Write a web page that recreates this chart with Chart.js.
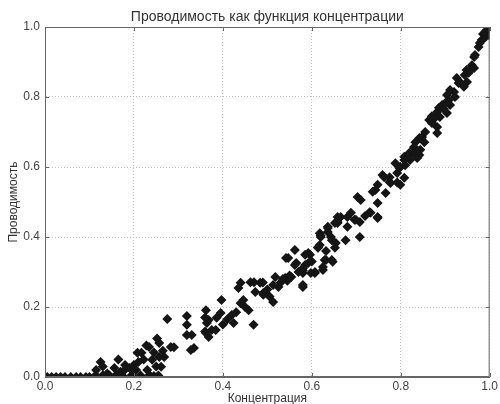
<!DOCTYPE html>
<html>
<head>
<meta charset="utf-8">
<script src="https://cdn.jsdelivr.net/npm/chart.js@4/dist/chart.umd.min.js"></script>
<style>
  html, body { margin: 0; padding: 0; background: #fff; }
</style>
</head>
<body>
<canvas id="chart" width="500" height="404"></canvas>
<script>
// Тексты графика
const chartTitle = 'Проводимость как функция концентрации';
const xTitle = 'Концентрация';
const yTitle = 'Проводимость';
const tickValues = [0, 0.2, 0.4, 0.6, 0.8, 1.0];

const zeroBand = [
  [0.005, 0], [0.015, 0], [0.025, 0], [0.035, 0], [0.045, 0], [0.058, 0], [0.07, 0],
  [0.08, 0], [0.092, 0], [0.1, 0], [0.11, 0], [0.118, 0], [0.13, 0.005], [0.145, 0.004],
  [0.16, 0.006], [0.175, 0.003], [0.195, 0.005], [0.215, 0.004], [0.235, 0.006],
  [0.245, 0.003], [0.255, 0.004]
];
const risingBand = [
  [0.115, 0.02], [0.125, 0.043], [0.13, 0.03], [0.14, 0.01], [0.156, 0.026], [0.165, 0.05],
  [0.17, 0.015], [0.18, 0.034], [0.179, 0.02], [0.19, 0.026], [0.2, 0.034], [0.21, 0.043],
  [0.208, 0.069], [0.217, 0.069], [0.228, 0.09], [0.23, 0.02], [0.234, 0.086], [0.241, 0.049],
  [0.25, 0.03], [0.252, 0.11], [0.257, 0.097], [0.257, 0.057], [0.261, 0.029], [0.265, 0.075],
  [0.268, 0.057], [0.275, 0.166], [0.283, 0.086], [0.29, 0.085], [0.319, 0.174], [0.319, 0.149],
  [0.319, 0.12], [0.33, 0.12], [0.328, 0.077], [0.335, 0.083], [0.36, 0.17], [0.36, 0.13],
  [0.364, 0.154], [0.362, 0.191], [0.368, 0.163], [0.362, 0.126], [0.375, 0.134], [0.368, 0.114],
  [0.384, 0.134], [0.386, 0.169], [0.397, 0.22], [0.395, 0.183], [0.42, 0.177], [0.424, 0.154],
  [0.41, 0.165], [0.4, 0.15], [0.43, 0.185], [0.222, 0.05], [0.245, 0.07], [0.205, 0.02]
];
const middleBand = [
  [0.44, 0.269], [0.462, 0.271], [0.484, 0.269], [0.435, 0.254], [0.446, 0.22], [0.44, 0.211],
  [0.473, 0.243], [0.458, 0.191], [0.469, 0.149], [0.491, 0.24], [0.45, 0.2], [0.491, 0.235],
  [0.5, 0.25], [0.505, 0.23], [0.518, 0.286], [0.525, 0.257], [0.513, 0.214], [0.542, 0.34],
  [0.562, 0.363], [0.565, 0.326], [0.58, 0.311], [0.58, 0.257], [0.596, 0.349], [0.607, 0.297],
  [0.618, 0.377], [0.629, 0.334], [0.647, 0.329], [0.643, 0.4], [0.62, 0.4], [0.54, 0.283],
  [0.554, 0.286], [0.547, 0.34], [0.592, 0.354], [0.618, 0.411], [0.636, 0.426], [0.652, 0.44],
  [0.614, 0.369], [0.632, 0.334], [0.625, 0.306], [0.562, 0.32], [0.58, 0.305], [0.607, 0.3],
  [0.513, 0.263], [0.545, 0.275], [0.47, 0.271], [0.49, 0.27], [0.652, 0.369], [0.654, 0.383],
  [0.53, 0.27], [0.535, 0.28], [0.55, 0.29], [0.57, 0.3], [0.585, 0.32], [0.6, 0.33]
];
const upperBand = [
  [0.636, 0.414], [0.62, 0.404], [0.645, 0.391], [0.614, 0.371], [0.632, 0.36], [0.645, 0.334],
  [0.585, 0.349], [0.592, 0.326], [0.58, 0.297], [0.598, 0.297], [0.58, 0.263], [0.625, 0.314],
  [0.665, 0.457], [0.658, 0.44], [0.68, 0.429], [0.676, 0.391], [0.688, 0.469], [0.699, 0.449],
  [0.708, 0.4], [0.703, 0.514], [0.71, 0.506], [0.73, 0.471], [0.748, 0.497], [0.748, 0.457],
  [0.743, 0.534], [0.766, 0.526], [0.775, 0.571], [0.792, 0.583], [0.788, 0.611], [0.808, 0.62],
  [0.808, 0.569], [0.821, 0.634], [0.83, 0.657], [0.837, 0.626], [0.799, 0.549], [0.759, 0.577],
  [0.777, 0.554], [0.792, 0.556], [0.763, 0.571], [0.775, 0.557], [0.748, 0.549], [0.737, 0.529],
  [0.732, 0.469], [0.68, 0.457], [0.658, 0.457], [0.658, 0.443], [0.696, 0.449], [0.708, 0.443],
  [0.748, 0.454], [0.636, 0.429], [0.72, 0.46], [0.808, 0.629], [0.797, 0.597]
];
const topBand = [
  [0.998, 1.0], [0.993, 0.991], [0.998, 0.977], [0.989, 0.969], [0.982, 0.963], [0.978, 0.954],
  [0.975, 0.943], [0.967, 0.92], [0.965, 0.914], [0.96, 0.891], [0.955, 0.877], [0.948, 0.877],
  [0.953, 0.869], [0.965, 0.883], [0.944, 0.863], [0.949, 0.843], [0.926, 0.854], [0.933, 0.843],
  [0.942, 0.829], [0.92, 0.814], [0.911, 0.82], [0.922, 0.8], [0.904, 0.806], [0.908, 0.791],
  [0.9, 0.783], [0.911, 0.777], [0.893, 0.777], [0.886, 0.769], [0.897, 0.766], [0.882, 0.757],
  [0.904, 0.754], [0.888, 0.743], [0.877, 0.74], [0.864, 0.734], [0.87, 0.726], [0.882, 0.714],
  [0.882, 0.697], [0.848, 0.686], [0.842, 0.683], [0.853, 0.671], [0.833, 0.671], [0.83, 0.654],
  [0.844, 0.649], [0.819, 0.64], [0.83, 0.64], [0.842, 0.634], [0.821, 0.62], [0.799, 0.6],
  [0.81, 0.605], [0.855, 0.7], [0.87, 0.745], [0.93, 0.84], [0.985, 0.98], [0.99, 0.985]
];

const points = [...zeroBand, ...risingBand, ...middleBand, ...upperBand, ...topBand]
  .map(p => ({ x: p[0], y: p[1] }));

const FONT = '"Liberation Sans", Arial, sans-serif';

// Рамка вокруг области графика, засечки внутрь и заголовок по центру области
const framePlugin = {
  id: 'frame',
  afterDraw(chart) {
    const { ctx, chartArea: a, scales } = chart;
    ctx.save();
    ctx.strokeStyle = '#666';
    ctx.lineWidth = 1;
    ctx.strokeRect(a.left + 0.5, a.top + 0.5, a.right - a.left - 1, a.bottom - a.top - 1);
    ctx.beginPath();
    tickValues.forEach(v => {
      const px = Math.round(scales.x.getPixelForValue(v)) + 0.5;
      ctx.moveTo(px, a.bottom); ctx.lineTo(px, a.bottom - 4);
      ctx.moveTo(px, a.top); ctx.lineTo(px, a.top + 4);
      const py = Math.round(scales.y.getPixelForValue(v)) + 0.5;
      ctx.moveTo(a.left, py); ctx.lineTo(a.left + 4, py);
      ctx.moveTo(a.right, py); ctx.lineTo(a.right - 4, py);
    });
    ctx.stroke();
    ctx.fillStyle = '#333';
    ctx.font = '14px ' + FONT;
    ctx.textAlign = 'center';
    ctx.textBaseline = 'middle';
    ctx.fillText(chartTitle, (a.left + a.right) / 2, 17);
    ctx.restore();
  }
};

new Chart(document.getElementById('chart'), {
  type: 'scatter',
  data: {
    datasets: [{
      data: points,
      pointStyle: 'rectRot',
      pointRadius: 5,
      pointBackgroundColor: '#151515',
      pointBorderColor: '#151515',
      pointBorderWidth: 0,
      clip: 0
    }]
  },
  options: {
    responsive: false,
    animation: false,
    layout: { padding: { top: 27, right: 7, left: 0, bottom: 0 } },
    plugins: { legend: { display: false }, tooltip: { enabled: false } },
    scales: {
      x: {
        type: 'linear', min: 0, max: 1,
        afterBuildTicks: s => { s.ticks = tickValues.map(v => ({ value: v })); },
        afterFit: s => { s.height = 27; },
        ticks: {
          callback: v => v.toFixed(1), autoSkip: false, maxRotation: 0,
          padding: 2, color: '#444', font: { family: FONT, size: 12 }
        },
        grid: { color: '#c4c4c4', drawTicks: false },
        border: { color: '#666', dash: [1, 2] },
        title: {
          display: true, text: xTitle, color: '#333',
          font: { family: FONT, size: 12 }, padding: { top: 0, bottom: -2 }
        }
      },
      y: {
        type: 'linear', min: 0, max: 1,
        afterBuildTicks: s => { s.ticks = tickValues.map(v => ({ value: v })); },
        afterFit: s => { s.width = 45; },
        ticks: {
          callback: v => v.toFixed(1), autoSkip: false,
          padding: 5, color: '#444', font: { family: FONT, size: 12 }
        },
        grid: { color: '#c4c4c4', drawTicks: false },
        border: { color: '#666', dash: [1, 2] },
        title: {
          display: true, text: yTitle, color: '#333',
          font: { family: FONT, size: 12 }, padding: { top: 6, bottom: 0 }
        }
      }
    }
  },
  plugins: [framePlugin]
});
</script>
</body>
</html>
